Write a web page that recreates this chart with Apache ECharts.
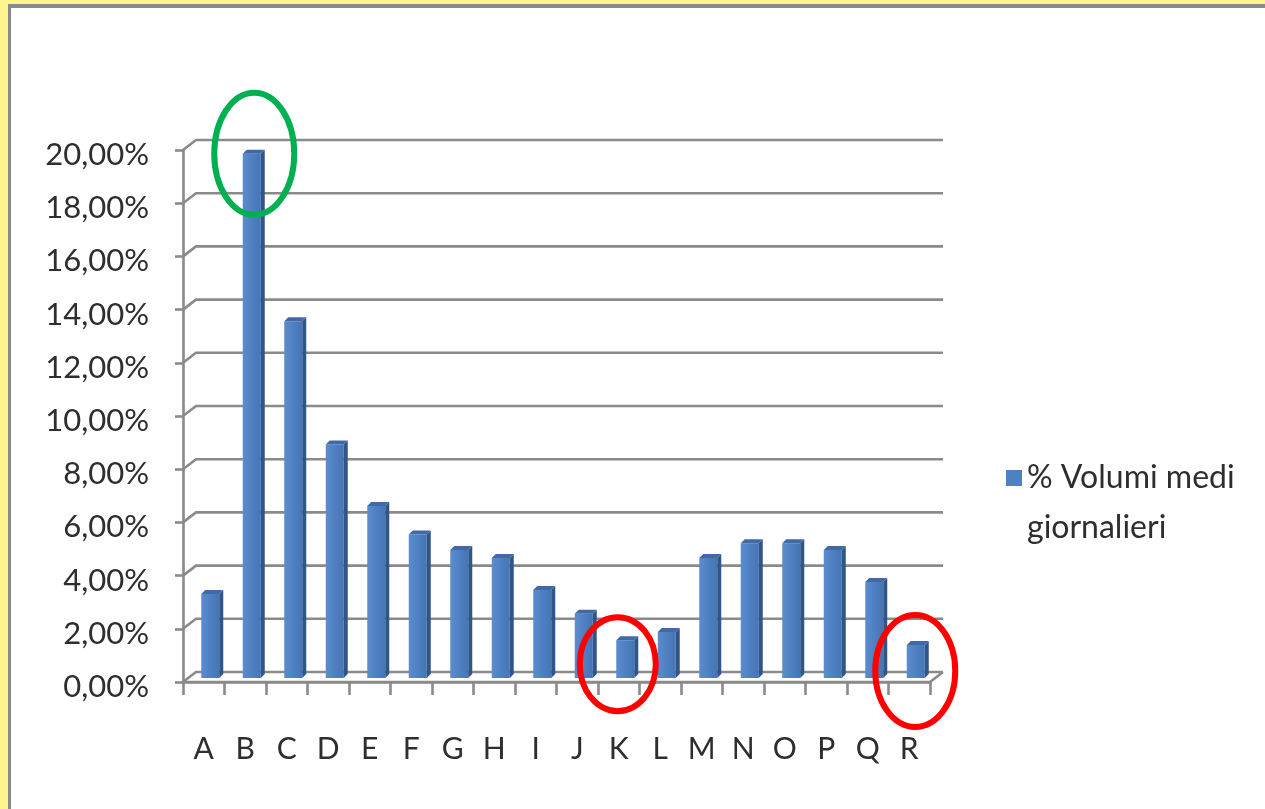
<!DOCTYPE html>
<html>
<head>
<meta charset="utf-8">
<title>% Volumi medi giornalieri</title>
<script src="https://cdn.jsdelivr.net/npm/echarts@6/dist/echarts.min.js"></script>
<style>
  html, body { margin: 0; padding: 0; width: 1265px; height: 809px; overflow: hidden; background: #fdf58c; }
  #frame { position: absolute; left: 8px; top: 4px; right: 0; bottom: 0; background: #ffffff;
           border-left: 3px solid #8a8a8a; border-top: 4px solid #8a8a8a; }
  #chart { position: absolute; left: 0; top: 0; width: 1265px; height: 809px; }
</style>
</head>
<body>
<div id="frame"></div>
<div id="chart"></div>
<script>
// Categories and share of average daily volume (%)
const categories = ['A','B','C','D','E','F','G','H','I','J','K','L','M','N','O','P','Q','R'];
const volumes = [3.20, 19.75, 13.45, 8.82, 6.50, 5.43, 4.85, 4.55, 3.35, 2.45, 1.46, 1.77, 4.55, 5.10, 5.10, 4.85, 3.65, 1.28];
const seriesName = '% Volumi medi\ngiornalieri';

// Value axis ticks and their labels
const yTicks = [0, 2, 4, 6, 8, 10, 12, 14, 16, 18, 20];
const yTickLabels = ['0,00%', '2,00%', '4,00%', '6,00%', '8,00%', '10,00%', '12,00%', '14,00%', '16,00%', '18,00%', '20,00%'];

// Categories picked out with rings: [category, colour]
const highlights = [['B', '#00b050'], ['K', '#ff0000'], ['R', '#ff0000']];

// Pseudo-3D depth: offset of the back wall from the front plane
const DX = 13, DY = -10;
const GRID_COLOR = '#8a8a8a';
const FONT = 'Lato';
const TEXT_COLOR = '#2e2e2e';

const chart = echarts.init(document.getElementById('chart'), null, { renderer: 'canvas' });

// Back wall gridlines with a short diagonal on the side wall; the 0 line also draws the floor
function renderWall(params, api) {
  const cs = params.coordSys;
  const y = api.coord([0, api.value(1)])[1];
  const children = [{
    type: 'polyline',
    shape: { points: [[cs.x, y], [cs.x + DX, y + DY], [cs.x + cs.width + DX, y + DY]] },
    style: { stroke: GRID_COLOR, lineWidth: 2.6, fill: null }
  }];
  if (api.value(1) === 0) {
    children.push({
      type: 'polyline',
      shape: { points: [[cs.x, y], [cs.x + cs.width, y], [cs.x + cs.width + DX, y + DY]] },
      style: { stroke: GRID_COLOR, lineWidth: 2.6, fill: null }
    });
  }
  return { type: 'group', children };
}

// Columns drawn at mid depth: front face, darker side face, lighter top
function renderColumn(params, api) {
  const idx = api.value(0);
  const base = api.coord([idx, 0]);
  const top = api.coord([idx, api.value(1)]);
  const W = 18, SIDE = 4, TOPH = 4;
  const x = base[0] + DX / 2 - W / 2;
  const ft = top[1] - 3;
  const fb = base[1] - 4;
  return {
    type: 'group',
    children: [
      {
        type: 'rect',
        shape: { x: x, y: ft, width: W, height: fb - ft },
        style: {
          fill: new echarts.graphic.LinearGradient(0, 0, 1, 0, [
            { offset: 0, color: '#5b8cce' },
            { offset: 0.5, color: '#4f80c2' },
            { offset: 1, color: '#4675b5' }
          ])
        }
      },
      {
        type: 'polygon',
        shape: { points: [[x + W, ft], [x + W + SIDE, ft - TOPH], [x + W + SIDE, fb - TOPH], [x + W, fb]] },
        style: { fill: '#2f5589' }
      },
      {
        type: 'polygon',
        shape: { points: [[x, ft], [x + SIDE, ft - TOPH], [x + W + SIDE, ft - TOPH], [x + W, ft]] },
        style: { fill: '#3f6aa6' }
      }
    ]
  };
}

const option = {
  animation: false,
  backgroundColor: 'transparent',
  legend: {
    // square sits at the top of a tall icon box so it lines up with the first text line
    data: [{ name: seriesName, icon: 'path://M0,0H10V10H0Z M0,41.25L0.01,41.25' }],
    left: 1001,
    top: 448,
    orient: 'vertical',
    itemWidth: 16,
    itemHeight: 66,
    itemGap: 0,
    selectedMode: false,
    textStyle: { fontFamily: FONT, fontSize: 32, color: TEXT_COLOR, lineHeight: 50 }
  },
  grid: { left: 183, right: 335, top: 150, bottom: 127, containLabel: false },
  xAxis: {
    type: 'category',
    data: categories,
    axisLine: { show: true, lineStyle: { color: GRID_COLOR, width: 2.6 } },
    axisTick: { show: true, length: 13, lineStyle: { color: GRID_COLOR, width: 2.6 } },
    axisLabel: { margin: 52, fontFamily: FONT, fontSize: 30, color: TEXT_COLOR },
    splitLine: { show: false }
  },
  yAxis: {
    type: 'value',
    min: 0,
    max: 20,
    interval: 2,
    axisLine: { show: true, lineStyle: { color: GRID_COLOR, width: 2.6 } },
    axisTick: { show: true, length: 8, lineStyle: { color: GRID_COLOR, width: 2.6 } },
    axisLabel: {
      margin: 34,
      verticalAlign: 'top',
      lineHeight: 10,
      fontFamily: FONT,
      fontSize: 31,
      color: TEXT_COLOR,
      formatter: function (v) { return yTickLabels[yTicks.indexOf(v)]; }
    },
    splitLine: { show: false }
  },
  series: [
    {
      type: 'custom',
      name: 'wall',
      silent: true,
      z: 1,
      renderItem: renderWall,
      data: yTicks.map(function (t) { return [0, t]; })
    },
    {
      type: 'custom',
      name: seriesName,
      z: 3,
      itemStyle: { color: '#4f80c2' },
      renderItem: renderColumn,
      data: volumes.map(function (v, i) { return [i, v]; })
    }
  ]
};

chart.setOption(option);

// Rings around highlighted columns, placed from the axes: [dx, dy, rx, ry] relative to the column top
const ringShape = { B: [9, -3, 40, 61], K: [-1, 21, 38, 47], R: [6, 23, 40, 56] };
const rings = highlights.map(function (h) {
  const i = categories.indexOf(h[0]);
  const p = chart.convertToPixel({ xAxisIndex: 0, yAxisIndex: 0 }, [i, volumes[i]]);
  const s = ringShape[h[0]];
  return {
    type: 'ellipse',
    shape: { cx: p[0] + s[0], cy: p[1] + s[1], rx: s[2], ry: s[3] },
    style: { fill: null, stroke: h[1], lineWidth: 6 },
    z: 10
  };
});
chart.setOption({ graphic: rings });
</script>
</body>
</html>
